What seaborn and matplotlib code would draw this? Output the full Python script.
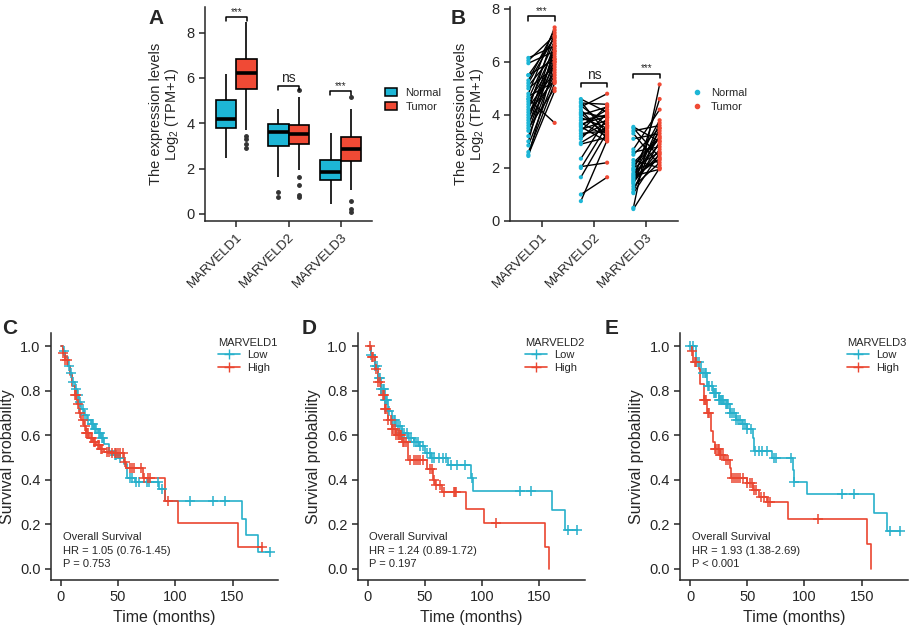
import numpy as np
import pandas as pd
import matplotlib
matplotlib.use("Agg")
import matplotlib.pyplot as plt
import seaborn as sns
from matplotlib.lines import Line2D
from matplotlib.patches import Patch

genes = ["MARVELD1", "MARVELD2", "MARVELD3"]
groups = ["Normal", "Tumor"]
c_norm = "#1DB6D6"
c_tum = "#F04A35"
km_low = "#27B0CB"
km_high = "#EA4530"

# A: expression values per box (quartiles, whiskers, outliers)
a_normal = {
    "MARVELD1": [2.46, 2.9, 3.3, 3.6, 3.78, 3.9, 4.0, 4.1, 4.18, 4.4, 4.6, 4.8, 5.03, 5.3, 5.6, 5.9, 6.18],
    "MARVELD2": [0.74, 0.99, 1.65, 2.4, 3.01, 3.2, 3.35, 3.5, 3.63, 3.75, 3.85, 3.92, 3.97, 4.15, 4.3, 4.45, 4.62],
    "MARVELD3": [0.44, 0.8, 1.1, 1.3, 1.49, 1.6, 1.7, 1.8, 1.87, 2.0, 2.1, 2.25, 2.38, 2.7, 3.0, 3.3, 3.56],
}
a_tumor = {
    "MARVELD1": [2.9, 3.1, 3.3, 3.45, 3.7, 5.50, 5.7, 5.85, 5.95, 6.1, 6.21, 6.3, 6.45, 6.55, 6.7, 6.82, 7.0, 7.3, 7.7, 8.1, 8.49],
    "MARVELD2": [0.74, 0.84, 1.28, 1.65, 1.94, 3.07, 3.2, 3.3, 3.38, 3.45, 3.51, 3.6, 3.7, 3.8, 3.88, 3.94, 4.1, 4.4, 4.8, 5.18, 5.47],
    "MARVELD3": [0.10, 0.21, 0.57, 1.06, 1.8, 2.35, 2.5, 2.6, 2.7, 2.8, 2.87, 2.95, 3.05, 3.15, 3.3, 3.41, 3.7, 4.0, 4.3, 4.62, 5.18],
}
a_sig = ["***", "ns", "***"]
a_sig_y = [8.53, 5.47, 5.25]

# B: paired samples (normal, tumor)
b_pairs = {
    "MARVELD1": [(6.15, 6.6), (6.05, 7.0), (5.95, 6.4), (5.5, 6.9), (5.5, 6.1), (5.3, 7.2), (5.1, 6.3),
                 (5.0, 5.8), (4.8, 7.3), (4.6, 3.7), (4.6, 6.8), (4.5, 6.0), (4.4, 6.5), (4.3, 5.6),
                 (4.2, 7.1), (4.1, 5.3), (4.0, 6.2), (3.9, 5.9), (3.8, 6.7), (3.7, 5.5), (3.6, 6.4),
                 (3.5, 5.0), (3.4, 6.1), (3.2, 5.7), (3.0, 6.6), (2.85, 5.4), (2.6, 5.2), (2.5, 4.9),
                 (2.45, 6.0), (4.7, 5.25), (5.2, 6.95)],
    "MARVELD2": [(4.6, 4.1), (4.5, 3.3), (4.45, 4.4), (4.35, 3.6), (4.3, 4.8), (4.2, 3.1), (4.1, 3.9),
                 (4.0, 4.3), (3.9, 3.5), (3.8, 4.0), (3.7, 3.2), (3.6, 4.2), (3.55, 3.0), (3.45, 3.8),
                 (3.4, 4.35), (3.3, 3.4), (3.2, 3.7), (3.1, 4.05), (2.95, 3.55), (2.9, 3.15), (2.35, 3.9),
                 (2.05, 2.2), (2.0, 3.6), (1.65, 3.35), (1.0, 1.65), (0.75, 3.05), (3.65, 3.95), (4.05, 3.25)],
    "MARVELD3": [(3.55, 3.0), (3.5, 2.4), (3.4, 3.6), (3.3, 2.1), (3.1, 3.3), (2.7, 4.2), (2.6, 2.8),
                 (2.5, 3.5), (2.3, 2.0), (2.1, 3.1), (2.0, 2.6), (1.95, 3.8), (1.9, 2.3), (1.8, 3.4),
                 (1.75, 2.9), (1.7, 1.95), (1.6, 3.2), (1.55, 2.5), (1.5, 4.6), (1.45, 2.7), (1.4, 3.7),
                 (1.3, 2.2), (1.2, 3.0), (1.1, 3.5), (1.05, 2.55), (0.5, 5.15), (0.45, 2.0), (2.2, 3.15),
                 (1.65, 2.35)],
}
b_sig_y = [7.56, 5.05, 5.39]

# C-E: Kaplan-Meier step points and censor times
km_c_low_t = [0, 2, 4, 6, 8, 10, 12, 14, 16, 18, 20, 23, 26, 29, 32, 35, 38, 42, 46, 50, 55, 58, 65, 86, 91, 158, 162, 172, 183]
km_c_low_s = [1.0, 0.98, 0.95, 0.91, 0.88, 0.84, 0.81, 0.78, 0.75, 0.72, 0.69, 0.67, 0.65, 0.63, 0.61, 0.59, 0.56, 0.53, 0.51, 0.50, 0.47, 0.41, 0.39, 0.36, 0.305, 0.225, 0.15, 0.075, 0.075]
km_c_high_t = [0, 2, 4, 6, 8, 10, 12, 14, 16, 18, 20, 22, 25, 28, 31, 34, 38, 44, 55, 57, 72, 91, 102, 155, 176]
km_c_high_s = [1.0, 0.97, 0.94, 0.91, 0.87, 0.82, 0.78, 0.74, 0.70, 0.67, 0.64, 0.61, 0.59, 0.57, 0.555, 0.54, 0.525, 0.52, 0.48, 0.455, 0.41, 0.305, 0.205, 0.10, 0.10]
cens_c_low = [3, 7, 9, 11, 13, 15, 17, 19, 21, 24, 27, 28, 30, 31, 33, 34, 36, 37, 47, 48, 52, 60, 62, 66, 68, 75, 77, 85, 88, 113, 133, 143, 183]
cens_c_high = [2, 4, 5, 12, 13, 15, 17, 19, 21, 22, 23, 24, 26, 27, 29, 30, 32, 33, 35, 36, 40, 42, 45, 47, 48, 50, 52, 54, 56, 60, 62, 64, 70, 73, 76, 78, 94, 176]

km_d_low_t = [0, 3, 6, 9, 12, 15, 18, 21, 25, 30, 35, 40, 45, 50, 55, 70, 90, 92, 161, 172, 183]
km_d_low_s = [1.0, 0.96, 0.91, 0.86, 0.81, 0.76, 0.71, 0.67, 0.64, 0.61, 0.59, 0.57, 0.55, 0.52, 0.50, 0.465, 0.41, 0.35, 0.265, 0.175, 0.175]
km_d_high_t = [0, 3, 6, 9, 12, 15, 18, 21, 25, 30, 35, 52, 57, 59, 65, 86, 102, 155, 158]
km_d_high_s = [1.0, 0.95, 0.90, 0.84, 0.78, 0.72, 0.67, 0.63, 0.60, 0.57, 0.49, 0.45, 0.40, 0.377, 0.345, 0.27, 0.205, 0.10, 0.0]
cens_d_low = [3, 6, 8, 10, 11, 12, 13, 14, 15, 16, 17, 19, 21, 23, 24, 26, 28, 30, 32, 34, 36, 38, 40, 42, 44, 46, 48, 52, 54, 56, 58, 62, 66, 68, 73, 78, 85, 91, 133, 143, 175, 183]
cens_d_high = [2, 4, 5, 7, 9, 11, 13, 14, 15, 16, 18, 20, 21, 22, 24, 25, 26, 27, 28, 29, 31, 32, 33, 37, 40, 42, 44, 46, 48, 54, 56, 58, 60, 63, 67, 75, 76, 77, 112]

km_e_low_t = [0, 5, 10, 15, 20, 25, 30, 35, 40, 45, 50, 55, 56, 72, 90, 91, 102, 161, 172, 183]
km_e_low_s = [1.0, 0.93, 0.88, 0.82, 0.79, 0.76, 0.74, 0.70, 0.67, 0.65, 0.63, 0.59, 0.53, 0.50, 0.445, 0.39, 0.335, 0.25, 0.17, 0.17]
km_e_high_t = [0, 2, 3, 8, 9, 12, 15, 18, 20, 22, 26, 30, 35, 36, 50, 55, 60, 67, 86, 155, 158]
km_e_high_s = [1.0, 0.98, 0.93, 0.90, 0.83, 0.76, 0.70, 0.62, 0.57, 0.54, 0.51, 0.49, 0.455, 0.41, 0.385, 0.355, 0.325, 0.30, 0.225, 0.11, 0.0]
cens_e_low = [0, 3, 6, 8, 11, 13, 14, 16, 17, 19, 21, 22, 23, 25, 26, 27, 28, 29, 31, 32, 33, 35, 37, 38, 40, 42, 44, 46, 48, 50, 53, 57, 60, 63, 67, 73, 75, 88, 91, 133, 143, 175, 183]
cens_e_high = [2, 4, 5, 12, 13, 14, 16, 17, 22, 23, 24, 25, 26, 27, 29, 31, 33, 37, 38, 40, 42, 44, 46, 50, 52, 54, 56, 58, 62, 65, 68, 70, 112]

km_panels = [
    ("C", "MARVELD1", km_c_low_t, km_c_low_s, cens_c_low, km_c_high_t, km_c_high_s, cens_c_high, "HR = 1.05 (0.76-1.45)", "P = 0.753"),
    ("D", "MARVELD2", km_d_low_t, km_d_low_s, cens_d_low, km_d_high_t, km_d_high_s, cens_d_high, "HR = 1.24 (0.89-1.72)", "P = 0.197"),
    ("E", "MARVELD3", km_e_low_t, km_e_low_s, cens_e_low, km_e_high_t, km_e_high_s, cens_e_high, "HR = 1.93 (1.38-2.69)", "P < 0.001"),
]

sns.set_theme(style="ticks")
plt.rcParams["font.family"] = ["Liberation Sans", "DejaVu Sans"]
plt.rcParams["mathtext.fontset"] = "custom"
plt.rcParams["mathtext.rm"] = "Liberation Sans"
plt.rcParams["axes.linewidth"] = 1.1
plt.rcParams["xtick.major.width"] = 1.1
plt.rcParams["ytick.major.width"] = 1.1
plt.rcParams["xtick.major.size"] = 4
plt.rcParams["ytick.major.size"] = 4

fig = plt.figure(figsize=(9.13, 6.25), dpi=100)
axA = fig.add_axes([0.2245, 0.6464, 0.183, 0.3424])
axB = fig.add_axes([0.5586, 0.6464, 0.184, 0.3424])
axC = fig.add_axes([0.0559, 0.072, 0.249, 0.3952])
axD = fig.add_axes([0.392, 0.072, 0.249, 0.3952])
axE = fig.add_axes([0.745, 0.072, 0.249, 0.3952])

ylab = "The expression levels\nLog$_{\\mathregular{2}}$ (TPM+1)"

# ---- A: boxplot
rows = []
for g in genes:
    for v in a_normal[g]:
        rows.append((g, "Normal", v))
    for v in a_tumor[g]:
        rows.append((g, "Tumor", v))
dfA = pd.DataFrame(rows, columns=["gene", "group", "value"])
sns.boxplot(data=dfA, x="gene", y="value", hue="group", order=genes, hue_order=groups,
            palette={"Normal": c_norm, "Tumor": c_tum}, saturation=1, width=0.78, gap=0,
            linewidth=1.2, linecolor="black", showcaps=False, fliersize=2.5,
            flierprops=dict(marker="o", markerfacecolor="#333333", markeredgecolor="#333333"),
            medianprops=dict(linewidth=2.6), legend=False, ax=axA)
axA.set_xlim(-0.6, 2.6)
axA.set_ylim(-0.31, 9.13)
axA.set_yticks([0, 2, 4, 6, 8])
axA.set_xlabel("")
axA.set_ylabel(ylab, fontsize=10.5, linespacing=1.0)
axA.tick_params(axis="y", labelsize=10.5)
axA.set_xticks(range(3))
axA.set_xticklabels(genes, rotation=45, ha="right", rotation_mode="anchor", fontsize=9.5)
sns.despine(ax=axA)
for i, (s, y) in enumerate(zip(a_sig, a_sig_y)):
    axA.plot([i - 0.2, i - 0.2, i + 0.2, i + 0.2], [y, y + 0.17, y + 0.17, y], color="black", lw=1.1)
    axA.text(i, y + 0.17 if s == "***" else y + 0.2, s, ha="center", va="bottom",
             fontsize=7 if s == "***" else 10)
hA = [Patch(facecolor=c_norm, edgecolor="black", lw=1.1), Patch(facecolor=c_tum, edgecolor="black", lw=1.1)]
axA.legend(hA, groups, loc="upper left", bbox_to_anchor=(1.02, 0.67), frameon=False,
           fontsize=8, handlelength=1.0, handleheight=0.8, handletextpad=0.8, labelspacing=0.35)

# ---- B: paired points
rowsB = []
pid = 0
for i, g in enumerate(genes):
    for n, t in b_pairs[g]:
        rowsB.append((pid, g, "Normal", i - 0.25, n))
        rowsB.append((pid, g, "Tumor", i + 0.25, t))
        pid += 1
dfB = pd.DataFrame(rowsB, columns=["pid", "gene", "group", "x", "value"])
sns.lineplot(data=dfB, x="x", y="value", units="pid", estimator=None, color="black", lw=1.0,
             ax=axB, legend=False)
sns.scatterplot(data=dfB, x="x", y="value", hue="group", hue_order=groups,
                palette={"Normal": c_norm, "Tumor": c_tum}, s=9, linewidth=0, zorder=3,
                ax=axB, legend=False)
axB.set_xlim(-0.6, 2.6)
axB.set_ylim(0, 8.07)
axB.set_yticks([0, 2, 4, 6, 8])
axB.set_xlabel("")
axB.set_ylabel(ylab, fontsize=10.5, linespacing=1.0)
axB.tick_params(axis="y", labelsize=10.5)
axB.set_xticks(range(3))
axB.set_xticklabels(genes, rotation=45, ha="right", rotation_mode="anchor", fontsize=9.5)
sns.despine(ax=axB)
for i, (s, y) in enumerate(zip(a_sig, b_sig_y)):
    axB.plot([i - 0.25, i - 0.25, i + 0.25, i + 0.25], [y, y + 0.17, y + 0.17, y], color="black", lw=1.1)
    axB.text(i, y + 0.17 if s == "***" else y + 0.2, s, ha="center", va="bottom",
             fontsize=7 if s == "***" else 10)
hB = [Line2D([], [], ls="", marker="o", ms=3, color=c_norm), Line2D([], [], ls="", marker="o", ms=3, color=c_tum)]
axB.legend(hB, groups, loc="upper left", bbox_to_anchor=(1.03, 0.67), frameon=False,
           fontsize=8, handlelength=0.8, handletextpad=0.8, labelspacing=0.35)

# ---- C-E: survival curves
def step_at(ts, ss, x):
    idx = np.searchsorted(ts, x, side="right") - 1
    return np.asarray(ss)[idx]

for ax, (letter, gene, lt, ls_, lc, ht, hs, hc, hr, pv) in zip([axC, axD, axE], km_panels):
    for t, s, c, col in [(lt, ls_, lc, km_low), (ht, hs, hc, km_high)]:
        d = pd.DataFrame({"time": t, "surv": s})
        sns.lineplot(data=d, x="time", y="surv", drawstyle="steps-post", estimator=None,
                     color=col, lw=1.2, ax=ax)
        dc = pd.DataFrame({"time": c, "surv": step_at(t, s, np.array(c))})
        sns.scatterplot(data=dc, x="time", y="surv", marker="+", s=50, color=col,
                        linewidth=1.1, ax=ax, zorder=3)
    ax.set_xlim(-8.6, 190)
    ax.set_ylim(-0.05, 1.06)
    ax.set_xticks([0, 50, 100, 150])
    ax.set_yticks([0, 0.2, 0.4, 0.6, 0.8, 1.0])
    ax.set_yticklabels(["0.0", "0.2", "0.4", "0.6", "0.8", "1.0"])
    ax.tick_params(labelsize=10.5)
    ax.set_xlabel("Time (months)", fontsize=11.5)
    ax.set_ylabel("Survival probability", fontsize=11.5)
    sns.despine(ax=ax)
    ax.text(1.5, 0.143, "Overall Survival", fontsize=8, va="center")
    ax.text(1.5, 0.082, hr, fontsize=8, va="center")
    ax.text(1.5, 0.020, pv, fontsize=8, va="center")
    hk = [Line2D([], [], color=km_low, marker="+", ms=7, lw=1.2),
          Line2D([], [], color=km_high, marker="+", ms=7, lw=1.2)]
    ax.legend(hk, ["Low", "High"], title=gene, loc="upper left", bbox_to_anchor=(0.69, 1.02),
              frameon=False, fontsize=8, title_fontsize=8, handlelength=2.0,
              handletextpad=0.6, labelspacing=0.2, alignment="left")

# panel letters
for lab, x, y in [("A", 0.163, 0.985), ("B", 0.494, 0.985), ("C", 0.002, 0.49), ("D", 0.33, 0.49), ("E", 0.662, 0.49)]:
    fig.text(x, y, lab, fontsize=15, fontweight="bold", va="top", ha="left")

fig.savefig("out.png", dpi=100)
